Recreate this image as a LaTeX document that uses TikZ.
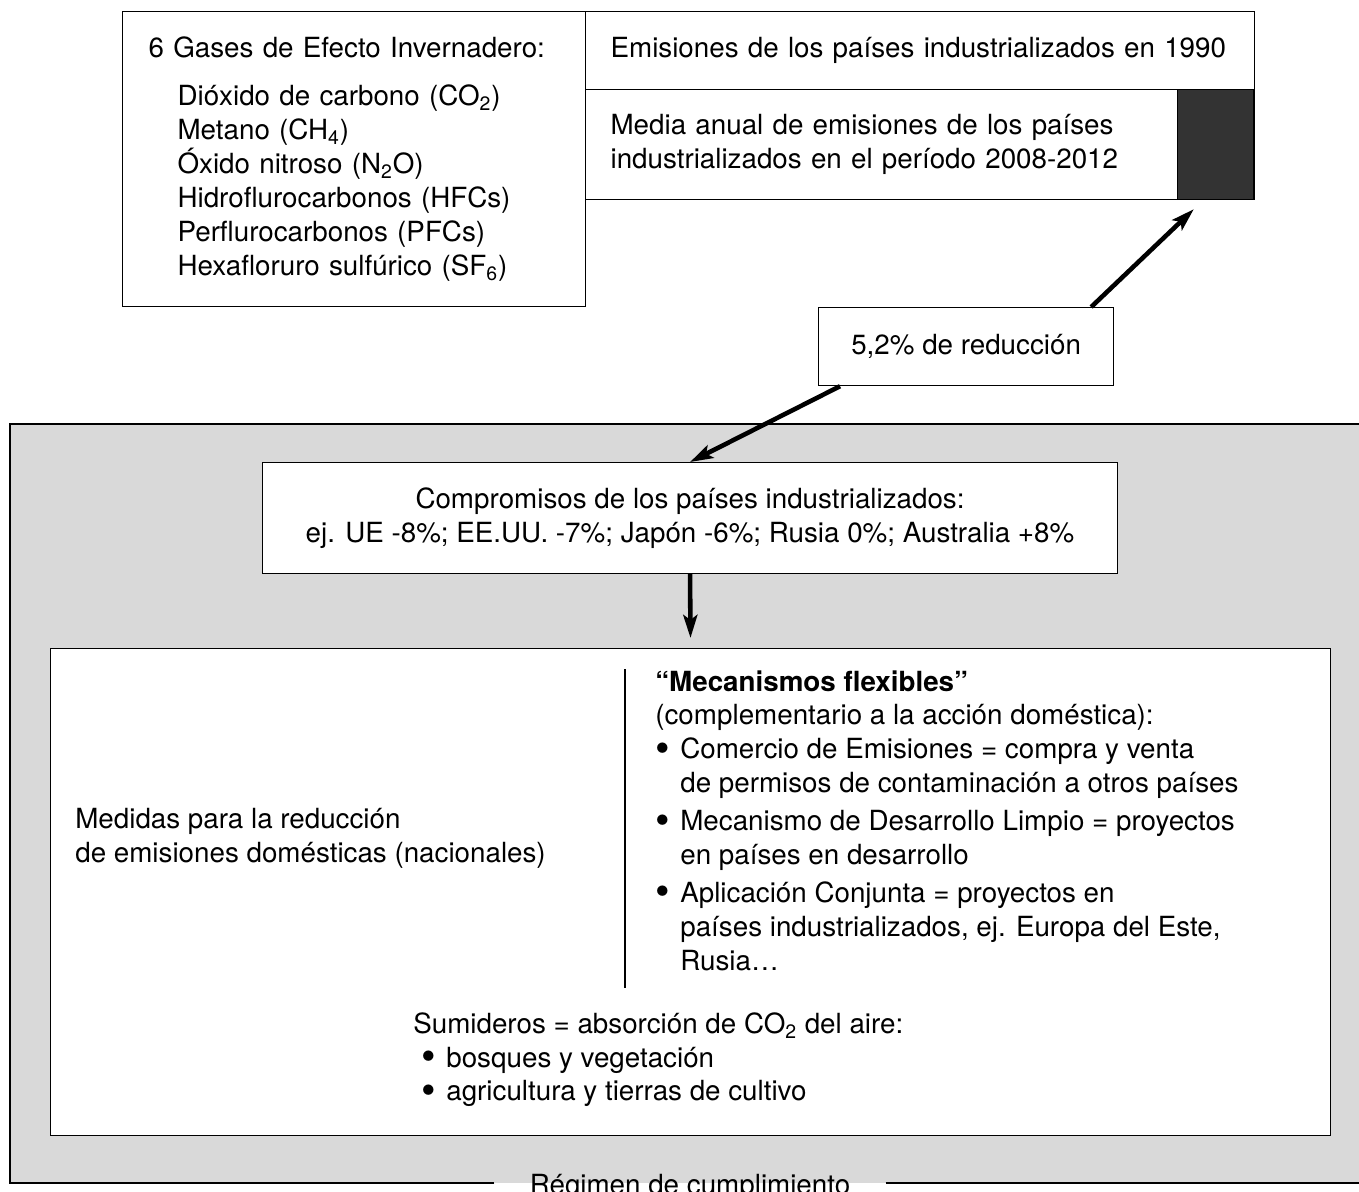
\documentclass[tikz,border=0pt]{standalone}
\usepackage{fontspec}
\setmainfont{TeX Gyre Heros}
\usetikzlibrary{arrows.meta}
\definecolor{frameGray}{HTML}{D9D9D9}
\definecolor{darkBar}{HTML}{333333}
\tikzset{
  box/.style={draw, fill=white, line width=0.7pt, inner sep=0pt, anchor=north west},
  txt/.style={inner sep=0pt, align=left},
  arr/.style={line width=2.6pt, -{Stealth[length=0.46cm,width=0.28cm,inset=0.1cm]}},
}
\newcommand{\flexbul}{\makebox[0.5cm][l]{\smash{\raisebox{-0.12em}{\scalebox{1.5}{•}}}}}

\begin{document}
\begin{tikzpicture}[x=0.02cm, y=-0.02cm, font=\fontsize{15.8}{19.3}\selectfont]
		%%%%% START %%%%%
		\useasboundingbox (0,0) rectangle (1359,1191);
		\clip (0,0) rectangle (1359,1191);
		\fill[white] (0,0) rectangle (1359,1191);
		
		% regimen frame
		\coordinate (tl) at (10,424);
		\coordinate (tr) at (1380,424);
		\coordinate (bl) at (10,1183);
		\coordinate (br) at (1380,1183);
		\fill[frameGray] (tl) rectangle (br);
		\node[anchor=base, inner xsep=0.7cm] (regimen) at (690,1194) {Régimen de cumplimiento};
		\draw[line width=0.8pt] (regimen.west |- bl) -- (bl) -- (tl) -- (tr);
		\draw[line width=0.8pt] (regimen.east |- br) -- (br);
		
		% top boxes
		\node[box, minimum width=9.26cm, minimum height=5.9cm, text width=8.22cm, inner xsep=0.52cm, align=left] (gases) at (122,11)
			{6 Gases de Efecto Invernadero:\\[0.28cm]
			\hspace*{0.58cm}Dióxido de carbono (CO\textsubscript{2})\\
			\hspace*{0.58cm}Metano (CH\textsubscript{4})\\
			\hspace*{0.58cm}Óxido nitroso (N\textsubscript{2}O)\\
			\hspace*{0.58cm}Hidroflurocarbonos (HFCs)\\
			\hspace*{0.58cm}Perflurocarbonos (PFCs)\\
			\hspace*{0.58cm}Hexafloruro sulfúrico (SF\textsubscript{6})};
		\node[box, minimum width=13.38cm, minimum height=1.56cm, text width=12.38cm, inner xsep=0.5cm, align=left] (e90) at (585,11)
			{Emisiones de los países industrializados en 1990};
		\node[box, minimum width=13.38cm, minimum height=2.2cm, text width=12.38cm, inner xsep=0.5cm, align=left] (media) at (585,89)
			{Media anual de emisiones de los países\\industrializados en el período 2008-2012};
		\node[box, fill=darkBar, minimum width=1.52cm, minimum height=2.2cm, anchor=north east] (dark) at (1254,89) {};
		
		\node[box, minimum width=5.9cm, minimum height=1.56cm] (red) at (818,307) {5,2\% de reducción};
		
		% inside the frame
		\node[box, minimum width=17.1cm, minimum height=2.22cm, align=center] (comp) at (262,462)
			{Compromisos de los países industrializados:\\ej. UE -8\%; EE.UU. -7\%; Japón -6\%; Rusia 0\%; Australia +8\%};
		\node[box, minimum width=25.6cm, minimum height=9.74cm] (main) at (50,648) {};
		\draw[line width=0.7pt] (625,669) -- (625,988);
		
		\node[txt, anchor=west] (medidas) at (75,838)
			{Medidas para la reducción\\de emisiones domésticas (nacionales)};
		\node[txt, anchor=north west] (flex) at (655,670)
			{\textbf{“Mecanismos flexibles”}\\
			(complementario a la acción doméstica):\\
			\flexbul Comercio de Emisiones = compra y venta\\
			\hspace*{0.5cm}de permisos de contaminación a otros países\\[0.08cm]
			\flexbul Mecanismo de Desarrollo Limpio = proyectos\\
			\hspace*{0.5cm}en países en desarrollo\\[0.08cm]
			\flexbul Aplicación Conjunta = proyectos en\\
			\hspace*{0.5cm}países industrializados, ej. Europa del Este,\\
			\hspace*{0.5cm}Rusia…};
		\node[txt, anchor=north west] (sumid) at (413,1012)
			{Sumideros = absorción de CO\textsubscript{2} del aire:\\
			\hspace*{0.16cm}\flexbul bosques y vegetación\\
			\hspace*{0.16cm}\flexbul agricultura y tierras de cultivo};
		
		% arrows
		\draw[arr] ([xshift=0.44cm]red.south west) -- (comp.north);
		\draw[arr] ([xshift=-0.46cm]red.north east) -- ([xshift=0.34cm,yshift=-0.18cm]dark.south west);
		\draw[arr] (comp.south) -- ([yshift=0.2cm]main.north);
		
		%%%%% END %%%%%
	\end{tikzpicture}
\end{document}
